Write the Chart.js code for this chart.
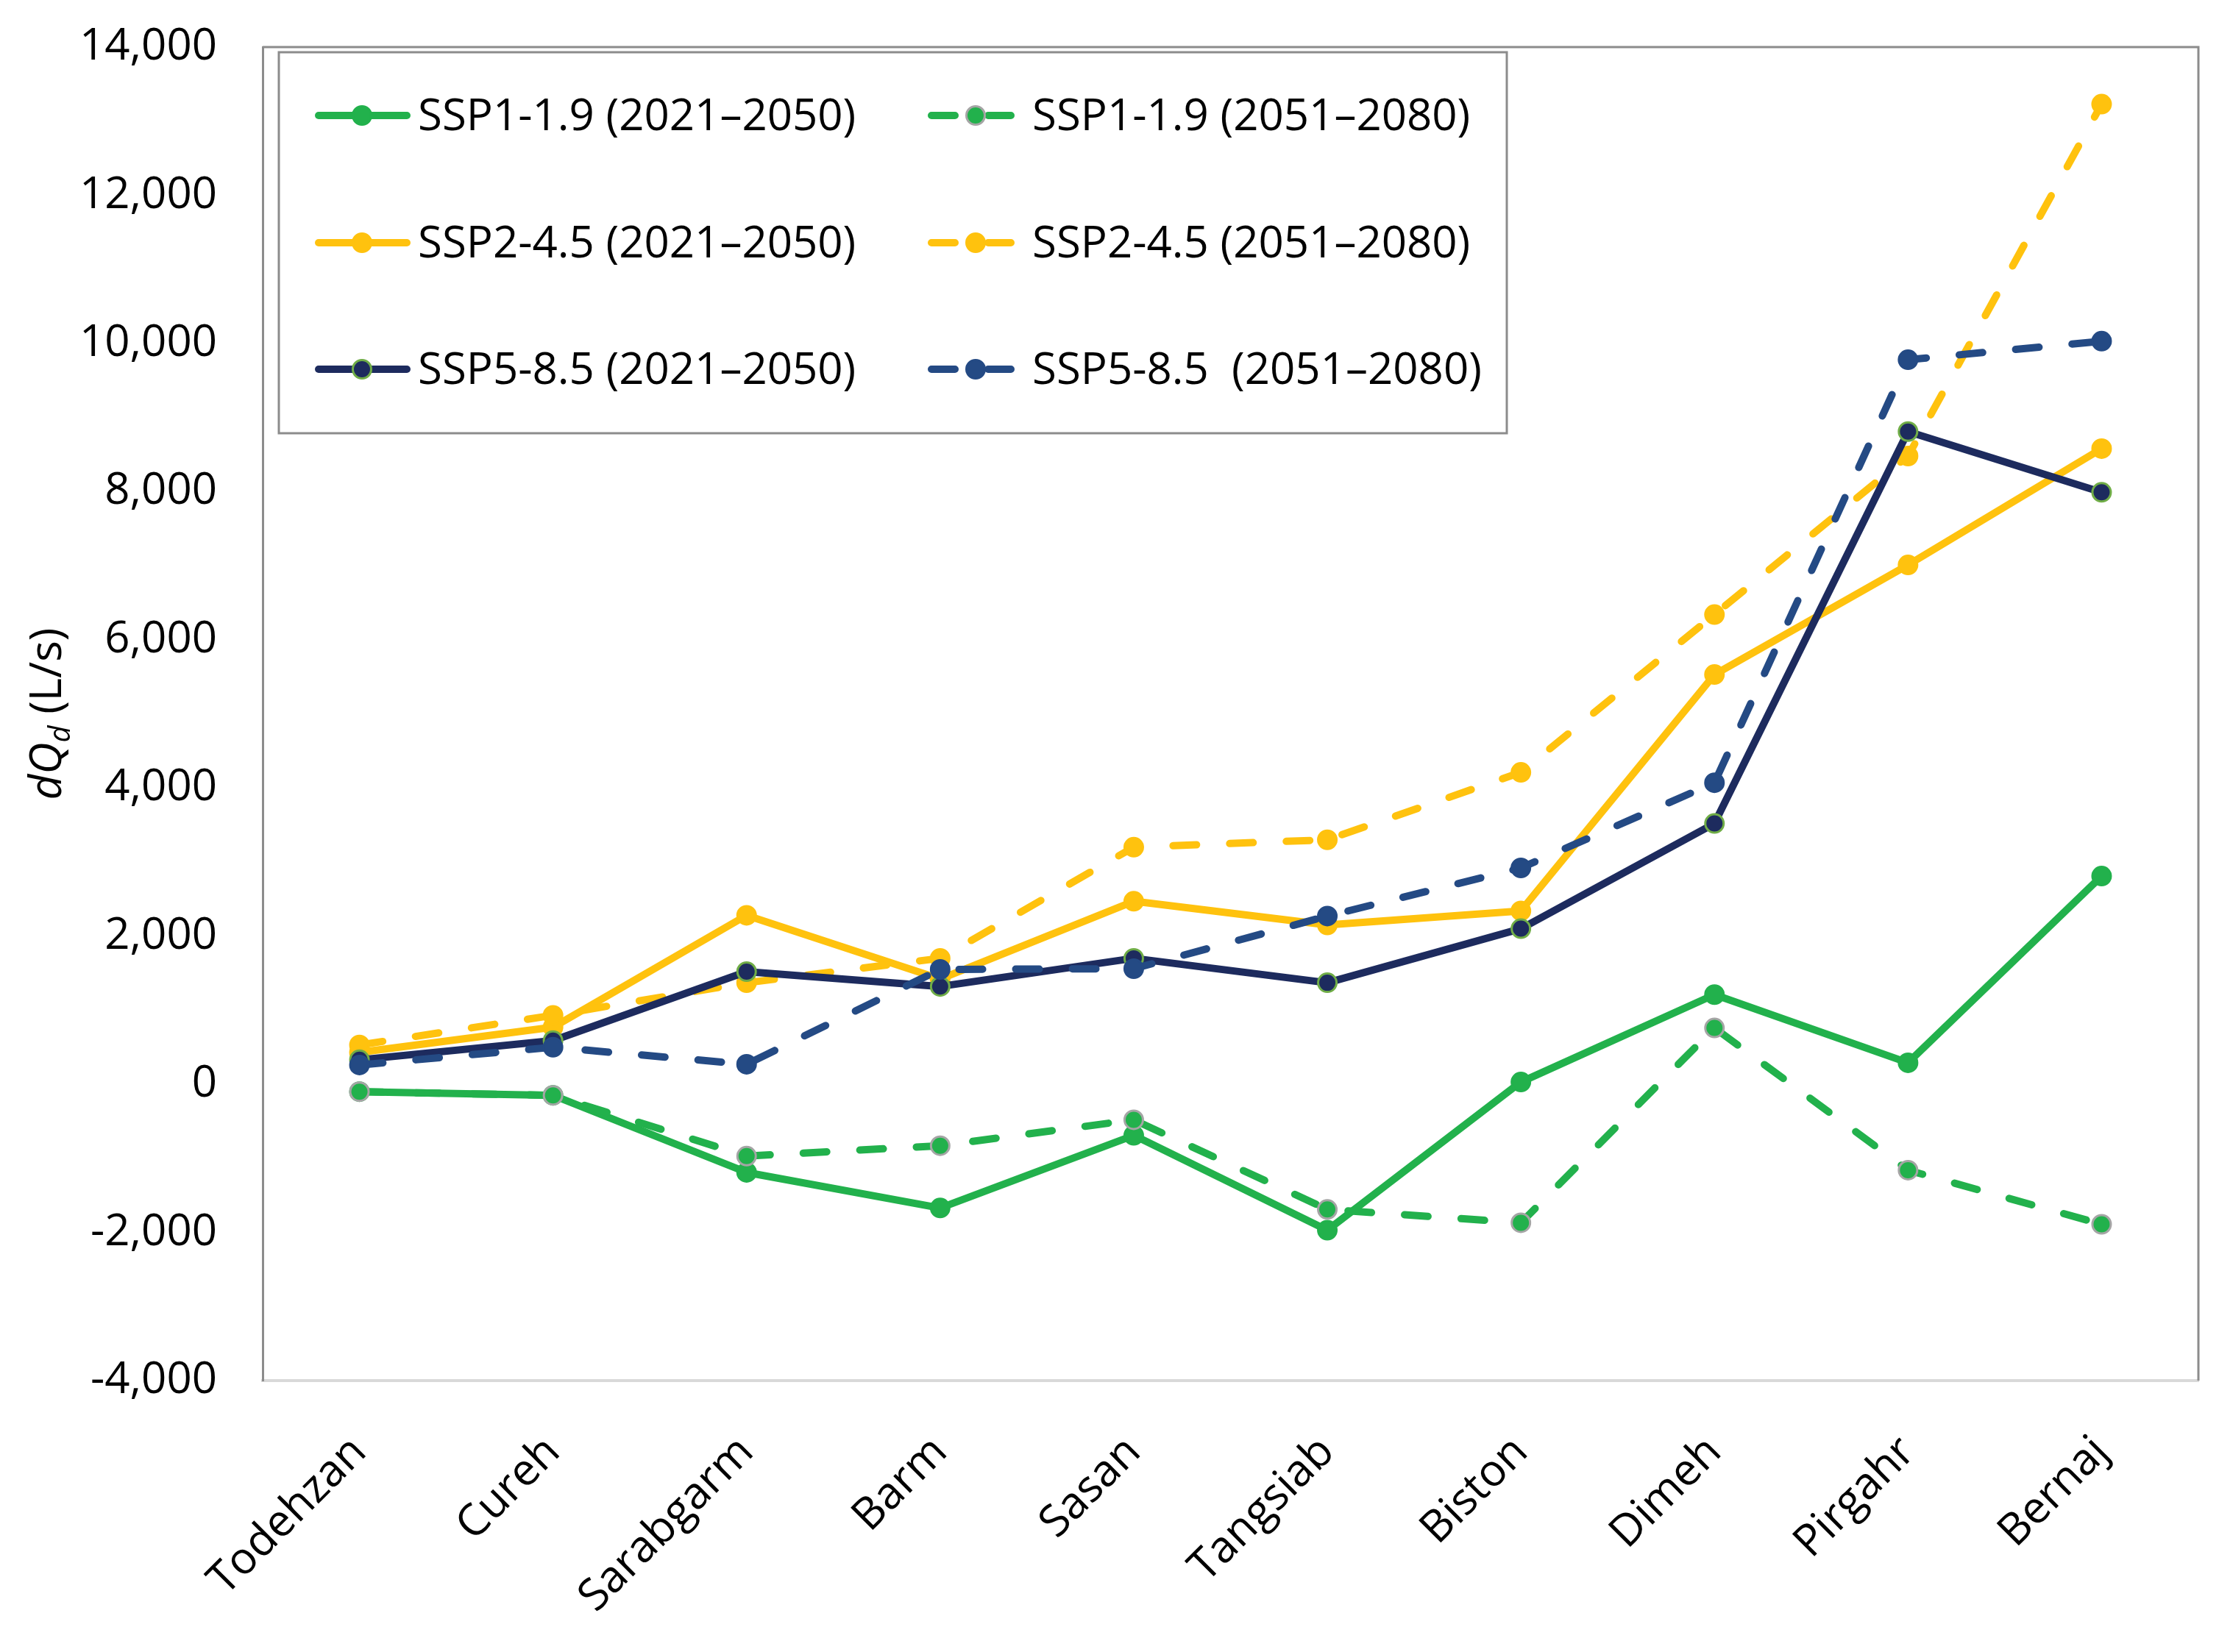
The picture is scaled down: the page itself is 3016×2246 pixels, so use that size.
<!DOCTYPE html>
<html><head><meta charset="utf-8">
<script src="https://cdn.jsdelivr.net/npm/chart.js@4.4.1/dist/chart.umd.min.js"></script>
<style>html,body{margin:0;padding:0;background:#fff;}canvas{display:block;}</style>
</head><body>
<canvas id="c" width="3016" height="2246" style="width:3016px;height:2246px"></canvas>
<script>
// ---------- data ----------
const categories = ['Todehzan','Cureh','Sarabgarm','Barm','Sasan','Tangsiab','Biston','Dimeh','Pirgahr','Bernaj'];
const seriesLabels = ['SSP1-1.9 (2021\u20132050)','SSP1-1.9 (2051\u20132080)','SSP2-4.5 (2021\u20132050)','SSP2-4.5 (2051\u20132080)','SSP5-8.5 (2021\u20132050)','SSP5-8.5  (2051\u20132080)'];
const ssp1Near = [-100, -150, -1190, -1670, -690, -1970, 30, 1210, 290, 2810];
const ssp1Far  = [-100, -150, -970, -830, -480, -1690, -1870, 760, -1160, -1890];
const ssp2Near = [430, 770, 2280, 1420, 2470, 2150, 2340, 5530, 7010, 8580];
const ssp2Far  = [530, 930, 1370, 1700, 3200, 3300, 4210, 6340, 8480, 13230];
const ssp5Near = [330, 590, 1520, 1320, 1700, 1370, 2100, 3520, 8810, 7990];
const ssp5Far  = [260, 500, 270, 1550, 1560, 2270, 2920, 4070, 9780, 10030];
const yMin = -4000, yMax = 14000, yStep = 2000;

// ---------- styles ----------
const FONT = "'Open Sans', 'Noto Sans', sans-serif";
const GREEN = '#22B14C', YELLOW = '#FFC20E', NAVY = '#1D2B5E', BLUE = '#244A84';
const DASH = [32, 45];

function ds(label, data, color, dashed, ptBorder, idx) {
  return {
    label, data,
    borderColor: color, backgroundColor: color,
    borderWidth: 10, borderDash: dashed ? DASH : [],
    borderCapStyle: 'round', borderJoinStyle: 'round',
    tension: 0,
    pointRadius: 12.5, pointHoverRadius: 12.5,
    pointBackgroundColor: color, pointBorderColor: ptBorder, pointBorderWidth: 3,
    order: 5 - idx, fill: false
  };
}

const datasets = [
  ds(seriesLabels[0], ssp1Near, GREEN, false, GREEN, 0),
  ds(seriesLabels[1], ssp1Far, GREEN, true, '#A5A5A5', 1),
  ds(seriesLabels[2], ssp2Near, YELLOW, false, YELLOW, 2),
  ds(seriesLabels[3], ssp2Far, YELLOW, true, YELLOW, 3),
  ds(seriesLabels[4], ssp5Near, NAVY, false, '#70AD47', 4),
  ds(seriesLabels[5], ssp5Far, BLUE, true, BLUE, 5)
];

const decor = {
  id: 'decor',
  afterDatasetsDraw(chart) {
    const ctx = chart.ctx, a = chart.chartArea;
    ctx.save();
    // plot frame (top, right)
    ctx.strokeStyle = '#8c8c8c'; ctx.lineWidth = 3; ctx.setLineDash([]);
    ctx.beginPath();
    ctx.moveTo(a.left, a.top); ctx.lineTo(a.right, a.top); ctx.lineTo(a.right, a.bottom);
    ctx.stroke();

    // legend box
    const bx = a.left + 22, by = a.top + 7, bw = 1669, bh = 518;
    ctx.fillStyle = '#fff';
    ctx.fillRect(bx, by, bw, bh);
    ctx.strokeStyle = '#8c8c8c'; ctx.lineWidth = 3;
    ctx.strokeRect(bx, by, bw, bh);

    const cols = [{lineL: bx + 49, lineR: bx + 179, mk: bx + 113, text: bx + 189},
                  {lineL: bx + 882, lineR: bx + 1000, mk: bx + 947, text: bx + 1024}];
    const rows = [by + 86, by + 259, by + 431];
    ctx.font = '60px ' + FONT;
    ctx.textBaseline = 'alphabetic'; ctx.textAlign = 'left';
    chart.data.datasets.forEach((d, i) => {
      const c = cols[i % 2], y = rows[Math.floor(i / 2)];
      ctx.strokeStyle = d.borderColor; ctx.lineWidth = 10; ctx.lineCap = 'round';
      ctx.beginPath();
      if (d.borderDash.length) {
        ctx.moveTo(c.lineL + 5, y); ctx.lineTo(c.mk - 28, y);
        ctx.moveTo(c.mk + 17, y); ctx.lineTo(c.lineR - 5, y);
      } else {
        ctx.moveTo(c.lineL + 5, y); ctx.lineTo(c.lineR - 5, y);
      }
      ctx.stroke();
      ctx.beginPath(); ctx.arc(c.mk, y, 12.5, 0, Math.PI * 2);
      ctx.fillStyle = d.pointBackgroundColor; ctx.fill();
      ctx.strokeStyle = d.pointBorderColor; ctx.lineWidth = 3; ctx.stroke();
      ctx.fillStyle = '#000';
      ctx.fillText(d.label, c.text, y + 20);
    });

    // y axis title: dQd (L/s)
    ctx.translate(62, (a.top + a.bottom) / 2);
    ctx.rotate(-Math.PI / 2);
    const parts = [
      {t: 'dQ', f: 'italic 60px ' + FONT, dy: 0},
      {t: 'd', f: 'italic 40px ' + FONT, dy: 12},
      {t: ' (L/s)', f: '60px ' + FONT, dy: 0}
    ];
    let total = 0;
    parts.forEach(p => { ctx.font = p.f; p.w = ctx.measureText(p.t).width; total += p.w; });
    let x = -total / 2;
    ctx.fillStyle = '#000'; ctx.textBaseline = 'alphabetic';
    parts.forEach(p => { ctx.font = p.f; ctx.fillText(p.t, x, 21 + p.dy); x += p.w; });
    ctx.restore();
  }
};

new Chart(document.getElementById('c'), {
  type: 'line',
  data: { labels: categories, datasets },
  options: {
    responsive: false, animation: false, devicePixelRatio: 1,
    layout: { padding: { left: 0, top: 64, right: 28, bottom: 0 } },
    plugins: { legend: { display: false }, tooltip: { enabled: false } },
    scales: {
      x: {
        type: 'category', offset: true,
        grid: { display: false, drawTicks: false },
        border: { display: true, color: '#d9d9d9', width: 4 },
        ticks: { color: '#000', font: { family: FONT, size: 60 }, minRotation: 45, maxRotation: 45, padding: 62, autoSkip: false },
        afterFit: s => { s.height = 369; }
      },
      y: {
        min: yMin, max: yMax,
        grid: { display: false, drawTicks: false },
        border: { display: true, color: '#8c8c8c', width: 3 },
        ticks: { stepSize: yStep, color: '#000', font: { family: FONT, size: 60 }, padding: 62,
                 callback: v => v.toLocaleString('en-US') },
        afterFit: s => { s.width = 357; s.paddingTop = 30; s.paddingBottom = 30; }
      }
    }
  },
  plugins: [decor]
});
</script>
</body></html>
